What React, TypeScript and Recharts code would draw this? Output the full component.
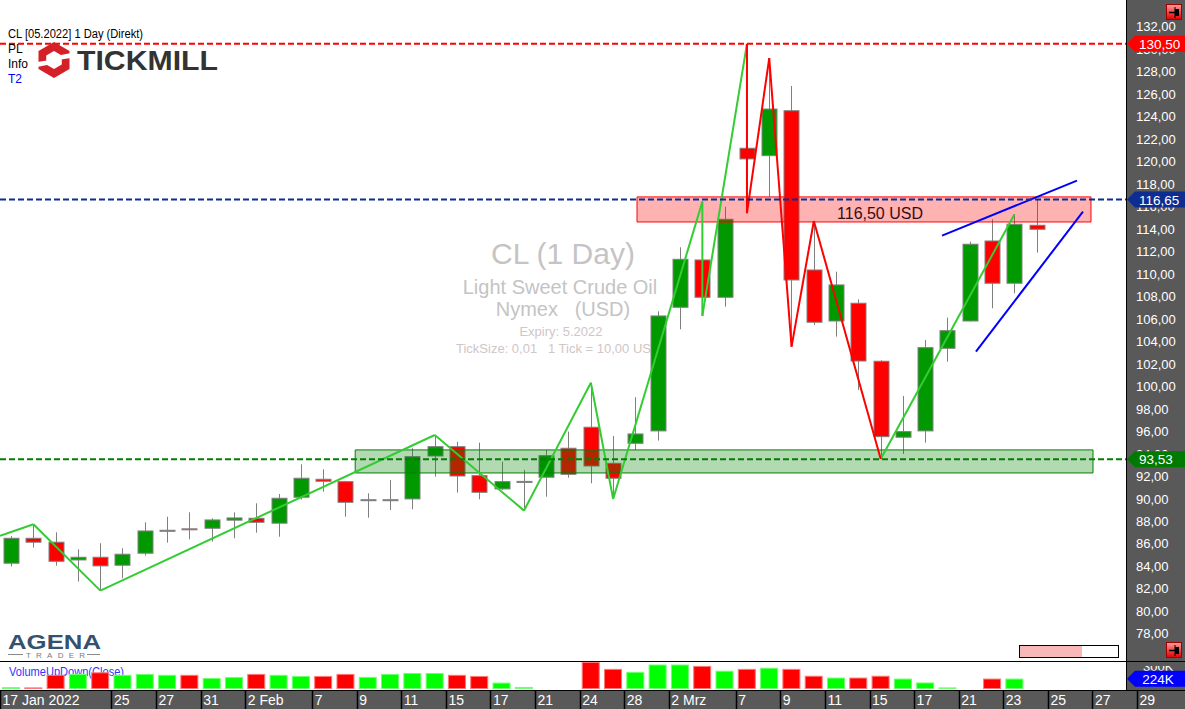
import React from 'react';
import { ComposedChart, Bar, Line, XAxis, YAxis, ReferenceLine, ReferenceArea } from 'recharts';

// ---------- DATA ----------
const open = [84.29, 86.51, 86.16, 84.58, 84.82, 84.11, 85.18, 87.15, 87.35, 87.40, 88.12, 88.29, 87.85, 90.16, 91.76, 91.55, 89.90, 89.90, 90.01, 93.83, 94.66, 92.08, 90.90, 91.53, 91.94, 94.52, 96.39, 93.18, 94.96, 96.06, 107.06, 111.27, 107.95, 121.21, 120.55, 124.55, 110.38, 105.84, 107.42, 102.26, 95.50, 96.06, 103.41, 105.84, 112.96, 109.20, 114.36];
const high = [86.70, 87.76, 87.04, 85.53, 86.07, 85.62, 87.93, 88.43, 88.82, 88.29, 88.82, 89.62, 90.45, 93.09, 92.65, 91.62, 90.51, 91.70, 94.52, 95.70, 95.10, 95.02, 93.33, 92.59, 94.37, 96.00, 100.35, 95.61, 99.06, 106.70, 112.40, 116.46, 116.01, 130.50, 129.22, 126.75, 114.74, 110.23, 107.77, 102.35, 99.17, 104.15, 106.14, 112.90, 114.89, 115.34, 116.67];
const low = [84.00, 85.68, 84.07, 82.65, 81.85, 82.95, 84.96, 86.12, 86.42, 86.21, 86.51, 87.01, 86.65, 89.95, 90.66, 88.43, 88.34, 89.03, 89.09, 91.99, 90.57, 89.98, 90.80, 88.97, 90.21, 91.90, 91.40, 90.00, 94.37, 95.20, 105.10, 106.29, 107.12, 115.43, 116.90, 103.56, 105.49, 104.45, 99.70, 93.57, 94.01, 95.02, 102.22, 105.80, 106.97, 108.31, 111.92];
const close = [86.51, 86.16, 84.46, 84.82, 84.05, 85.09, 87.16, 87.22, 87.31, 88.14, 88.32, 87.93, 90.07, 91.85, 91.58, 89.71, 89.94, 89.94, 93.77, 94.66, 92.05, 90.60, 91.55, 91.57, 93.86, 92.20, 92.94, 91.85, 95.79, 106.29, 111.33, 107.95, 114.89, 120.26, 124.70, 109.49, 105.73, 109.05, 102.28, 95.55, 96.00, 103.47, 104.98, 112.67, 109.20, 114.45, 114.00];
// volume in thousands
const volume = [40, 35, 310, 330, 365, 310, 330, 310, 310, 240, 260, 330, 310, 285, 285, 330, 265, 330, 350, 350, 310, 285, 140, 45, 0, 0, 590, 440, 375, 535, 535, 505, 400, 440, 465, 440, 290, 250, 250, 290, 228, 143, 35, 0, 228, 228, 0];
const volumeUp = [1, 0, 0, 1, 0, 1, 1, 1, 0, 1, 1, 0, 1, 1, 0, 0, 1, 1, 1, 1, 0, 0, 1, 1, 1, 1, 0, 0, 1, 1, 1, 0, 1, 0, 1, 0, 0, 1, 0, 0, 1, 1, 1, 1, 0, 1, 0];

const dateTickBars = [0, 5, 7, 9, 11, 14, 16, 18, 20, 22, 24, 26, 28, 30, 33, 35, 37, 39, 41, 43, 45, 47, 49, 51];
const dateTickLabels = ['17 Jan 2022', '25', '27', '31', '2 Feb', '7', '9', '11', '15', '17', '21', '24', '28', '2 Mrz', '7', '9', '11', '15', '17', '21', '23', '25', '27', '29'];
const priceTicks = [78, 80, 82, 84, 86, 88, 90, 92, 94, 96, 98, 100, 102, 104, 106, 108, 110, 112, 114, 116, 118, 120, 122, 124, 126, 128, 130, 132];

const greenZigA = [
  { i: -0.5, p: 86.72 }, { i: 1, p: 87.76 }, { i: 4, p: 81.85 }, { i: 19, p: 95.70 }, { i: 23, p: 88.97 },
  { i: 26, p: 100.35 }, { i: 27, p: 90.0 }, { i: 31, p: 116.46 }, { i: 31, p: 106.29 }, { i: 33, p: 130.5 },
];
const redZig = [
  { i: 33, p: 130.5 }, { i: 33, p: 115.43 }, { i: 34, p: 129.22 }, { i: 35, p: 103.56 }, { i: 36, p: 114.74 }, { i: 39, p: 93.57 },
];
const greenZigB = [{ i: 39, p: 93.57 }, { i: 45, p: 115.34 }];
const channelUpper = [{ i: 41.75, p: 113.43 }, { i: 47.8, p: 118.33 }];
const channelLower = [{ i: 43.27, p: 103.11 }, { i: 48.07, p: 115.57 }];

const levelValues = [130.5, 116.65, 93.53];
const levelLabels = ['130,50', '116,65', '93,53'];
const redZone = [28.07, 48.43, 114.65, 116.88];
const greenZone = [15.43, 48.52, 92.32, 94.37];
const lastVolume = 224;

// ---------- LAYOUT ----------
const FONT = '"Liberation Sans", Arial, Helvetica, sans-serif';
const W = 1185;
const PRICE_H = 661;
const AXIS_W = 59;
const X_DOMAIN: [number, number] = [-0.5, 50];
const X_DOMAIN_FULL: [number, number] = [-0.5, 52.65];
const Y_DOMAIN: [number, number] = [75.59, 134.4];
const V_DOMAIN: [number, number] = [0, 590];
const levelColors = ['#ff0000', '#0d2d91', '#008000'];
const markerColors = ['#ff0000', '#0d2d91', '#007a00'];

const candles = open.map((o, i) => ({ i, o, h: high[i], l: low[i], c: close[i], v: volume[i], up: volumeUp[i] === 1 }));
const dateTickValues = dateTickBars.map((b) => b - 0.5);

const CandleShape = (props: any) => {
  const { x, y, width, height, payload } = props;
  if (!payload) return null;
  const top = Math.min(y, y + height);
  const bot = Math.max(y, y + height);
  const span = payload.h - payload.l;
  const py = (p: number) => (span <= 0 ? top : top + ((payload.h - p) / span) * (bot - top));
  const cx = Math.round(x + width / 2) + 0.5;
  const yo = py(payload.o);
  const yc = py(payload.c);
  const bt = Math.min(yo, yc);
  const bb = Math.max(yo, yc);
  const up = payload.c >= payload.o;
  return (
    <g>
      <line x1={cx} x2={cx} y1={top} y2={bot} stroke="#808080" strokeWidth={1} />
      <rect x={cx - 7.5} y={bt} width={15} height={Math.max(bb - bt, 1)} fill={up ? '#009900' : '#ff0000'} stroke="#808080" strokeWidth={1} />
    </g>
  );
};

const VolShape = (props: any) => {
  const { x, y, width, height, payload } = props;
  if (!payload || !height || height <= 0) return null;
  const up = payload.up;
  return (
    <rect x={x + 0.5} y={y + 0.5} width={width - 1} height={Math.max(height - 1, 1)}
      fill={up ? '#00ff00' : '#ff0000'} stroke={up ? '#70ff70' : '#ff7878'} strokeWidth={1} />
  );
};

const PriceTick = (props: any) => {
  const { x, y, payload } = props;
  return (
    <text x={x} y={y} dy={4.5} fill="#ffffff" fontSize={13} fontFamily={FONT} textAnchor="start">
      {Number(payload.value).toFixed(2).replace('.', ',')}
    </text>
  );
};

const DateTick = (props: any) => {
  const { x, y, payload } = props;
  let idx = 0;
  dateTickValues.forEach((v, k) => { if (Math.abs(v - payload.value) < 1e-6) idx = k; });
  const lx = Math.round(x) + 0.5;
  return (
    <g>
      <line x1={lx} x2={lx} y1={y} y2={y + 19} stroke="#000" strokeWidth={1.5} />
      <text x={x + 2.5} y={y + 15} fill="#ffffff" fontSize={14} fontFamily={FONT}>{dateTickLabels[idx]}</text>
    </g>
  );
};

const Marker = (props: any) => {
  const { viewBox, text, color, center } = props;
  if (!viewBox) return null;
  const x0 = viewBox.x + viewBox.width;
  const y = viewBox.y;
  const pts = `${x0 + 1},${y} ${x0 + 9},${y - 8} ${x0 + 59},${y - 8} ${x0 + 59},${y + 8} ${x0 + 9},${y + 8}`;
  return (
    <g>
      <polygon points={pts} fill={color} />
      <text x={center ? x0 + 32 : x0 + 13} y={y + 5} fill="#ffffff" fontSize={13.5} fontFamily={FONT} textAnchor={center ? 'middle' : 'start'}>{text}</text>
    </g>
  );
};

const ZoneLabel = (props: any) => {
  const { viewBox } = props;
  if (!viewBox) return null;
  return (
    <text x={viewBox.x + 200} y={viewBox.y + 22} fill="#3a0c0c" fontSize={16} fontFamily={FONT}>116,50 USD</text>
  );
};

const seg = (a: { i: number; p: number }, b: { i: number; p: number }) => [{ x: a.i, y: a.p }, { x: b.i, y: b.p }];

const zigSegments = (pts: { i: number; p: number }[], color: string, keyBase: string) =>
  pts.slice(1).map((b, k) => (
    <ReferenceLine key={keyBase + k} segment={seg(pts[k], b) as any} stroke={color} strokeWidth={2} ifOverflow="visible" />
  ));

const PinButton = ({ left, top }: { left: number; top: number }) => (
  <svg style={{ position: 'absolute', left, top }} width={16} height={16}>
    <defs>
      <linearGradient id={`pg${top}`} x1="0" y1="0" x2="0" y2="1">
        <stop offset="0" stopColor="#ff9a9a" />
        <stop offset="1" stopColor="#e00000" />
      </linearGradient>
    </defs>
    <rect x={0.5} y={0.5} width={15} height={15} fill={`url(#pg${top})`} stroke="#a00000" />
    <line x1={3} x2={9} y1={8.5} y2={8.5} stroke="#000" strokeWidth={1.5} />
    <rect x={9} y={5} width={4} height={7} fill="#000" />
    <line x1={9} x2={9} y1={3} y2={14} stroke="#000" strokeWidth={1} />
  </svg>
);

export default function App() {
  return (
    <div style={{ position: 'absolute', left: 0, top: 0, width: W, height: 709, background: '#ffffff', overflow: 'hidden', fontFamily: FONT }}>
      {/* right price axis background */}
      <div style={{ position: 'absolute', left: 1126, top: 0, width: AXIS_W, height: 691, background: '#595959', borderLeft: '1px solid #000', boxSizing: 'border-box' }} />

      {/* watermark */}
      <svg style={{ position: 'absolute', left: 0, top: 0 }} width={1126} height={PRICE_H}>
        <text x={563} y={264} textAnchor="middle" fontSize={30} fill="#c4c4c4" fontFamily={FONT}>CL (1 Day)</text>
        <text x={560} y={294} textAnchor="middle" fontSize={20} fill="#c4c4c4" fontFamily={FONT}>Light Sweet Crude Oil</text>
        <text x={563} y={316} textAnchor="middle" fontSize={20} fill="#c4c4c4" fontFamily={FONT} style={{ whiteSpace: 'pre' }}>Nymex   (USD)</text>
        <text x={561} y={336} textAnchor="middle" fontSize={13} fill="#d0c6c6" fontFamily={FONT}>Expiry: 5.2022</text>
        <text x={456} y={353} textAnchor="start" fontSize={13} fill="#d0c6c6" fontFamily={FONT} style={{ whiteSpace: 'pre' }}>TickSize: 0,01   1 Tick = 10,00 USD</text>
      </svg>

      {/* price chart: candles + axis */}
      <div style={{ position: 'absolute', left: 0, top: 0 }}>
        <ComposedChart width={W} height={PRICE_H} data={candles} margin={{ top: 0, right: 0, bottom: 0, left: 0 }}>
          <XAxis type="number" dataKey="i" domain={X_DOMAIN} hide allowDataOverflow />
          <YAxis orientation="right" width={AXIS_W} domain={Y_DOMAIN} ticks={priceTicks} interval={0} allowDataOverflow
            axisLine={false} tickLine={false} tickSize={0} tickMargin={10} tick={<PriceTick />} />
          <Bar dataKey={(d: any) => [d.l, d.h]} barSize={16} shape={<CandleShape />} isAnimationActive={false} />
        </ComposedChart>
      </div>

      {/* overlay: zones, zigzags, channel, levels */}
      <div style={{ position: 'absolute', left: 0, top: 0 }}>
        <ComposedChart width={W} height={PRICE_H} data={candles} margin={{ top: 0, right: AXIS_W, bottom: 0, left: 0 }}>
          <XAxis type="number" dataKey="i" domain={X_DOMAIN} hide allowDataOverflow />
          <YAxis domain={Y_DOMAIN} hide allowDataOverflow />
          <Line dataKey="c" stroke="none" dot={false} activeDot={false} isAnimationActive={false} />
          <ReferenceArea x1={greenZone[0]} x2={greenZone[1]} y1={greenZone[2]} y2={greenZone[3]} fill="#008000" fillOpacity={0.3} stroke="#008000" strokeOpacity={1} ifOverflow="visible" />
          <ReferenceArea x1={redZone[0]} x2={redZone[1]} y1={redZone[2]} y2={redZone[3]} fill="#ff0000" fillOpacity={0.3} stroke="#ff0000" strokeOpacity={1} ifOverflow="visible" label={<ZoneLabel />} />
          {zigSegments(greenZigA, '#33cc33', 'ga')}
          {zigSegments(greenZigB, '#33cc33', 'gb')}
          {zigSegments(redZig, '#ff0000', 'r')}
          {zigSegments(channelUpper, '#0000ff', 'cu')}
          {zigSegments(channelLower, '#0000ff', 'cl')}
          {levelValues.map((v, k) => (
            <ReferenceLine key={'lv' + k} y={v} stroke={levelColors[k]} strokeWidth={2} strokeDasharray="6 3"
              label={<Marker text={levelLabels[k]} color={markerColors[k]} />} />
          ))}
        </ComposedChart>
      </div>

      {/* top-left info + logo */}
      <svg style={{ position: 'absolute', left: 0, top: 0 }} width={240} height={90}>
        <text x={8} y={38} fontSize={12} fill="#000" fontFamily={FONT} textLength={135} lengthAdjust="spacingAndGlyphs">CL [05.2022] 1 Day (Direkt)</text>
        <text x={8} y={53} fontSize={12} fill="#000" fontFamily={FONT}>PL</text>
        <text x={8} y={68} fontSize={12} fill="#000" fontFamily={FONT}>Info</text>
        <text x={8} y={83} fontSize={12} fill="#0000ff" fontFamily={FONT}>T2</text>
        <polygon points="54,42 69.5,51 69.5,69 54,78 38.5,69 38.5,51" fill="#d42027" />
        <polygon points="54,51 61.8,55.5 61.8,64.5 54,69 46.2,64.5 46.2,55.5" fill="#ffffff" />
        <polygon points="61,55 71,53 71,58 61,59.5" fill="#ffffff" />
        <polygon points="37,62 47,60.5 47,65 37,67" fill="#ffffff" />
        <text x={77} y={70} fontSize={28} fontWeight={700} fill="#333333" fontFamily={FONT} textLength={141} lengthAdjust="spacingAndGlyphs">TICKMILL</text>
      </svg>

      {/* AGENA logo */}
      <svg style={{ position: 'absolute', left: 0, top: 628 }} width={110} height={32}>
        <text x={8} y={21} fontSize={21} fontWeight={700} fill="#34526e" fontFamily={FONT} textLength={93} lengthAdjust="spacingAndGlyphs">AGENA</text>
        <line x1={8} x2={23} y1={26.5} y2={26.5} stroke="#8a8a8a" strokeWidth={1} />
        <line x1={87} x2={100} y1={26.5} y2={26.5} stroke="#8a8a8a" strokeWidth={1} />
        <text x={26} y={29.5} fontSize={8} fill="#7a7a7a" fontFamily={FONT} textLength={59} lengthAdjust="spacing">TRADER</text>
      </svg>

      {/* small progress box */}
      <div style={{ position: 'absolute', left: 1019, top: 645, width: 100, height: 13, border: '1px solid #000', boxSizing: 'border-box', background: '#fff' }}>
        <div style={{ width: 62, height: 11, background: '#f8b8b8' }} />
      </div>

      <PinButton left={1166} top={4} />
      <PinButton left={1166} top={642} />

      {/* volume panel */}
      <div style={{ position: 'absolute', left: 0, top: 661, width: W, height: 1, background: '#000' }} />
      <div style={{ position: 'absolute', left: 1127, top: 662, width: 58, height: 10, overflow: 'hidden' }}>
        <svg width={58} height={10}>
          <text x={16} y={4.5} fontSize={13} fill="#ffffff" fontFamily={FONT}>300K</text>
        </svg>
      </div>
      <svg style={{ position: 'absolute', left: 0, top: 662 }} width={200} height={20}>
        <text x={9} y={14} fontSize={12} fill="#3333ff" fontFamily={FONT} textLength={115} lengthAdjust="spacingAndGlyphs">VolumeUpDown(Close)</text>
      </svg>
      <div style={{ position: 'absolute', left: 0, top: 661 }}>
        <ComposedChart width={W} height={29} data={candles} margin={{ top: 1, right: AXIS_W, bottom: 1, left: 0 }}>
          <XAxis type="number" dataKey="i" domain={X_DOMAIN} hide allowDataOverflow />
          <YAxis domain={V_DOMAIN} hide allowDataOverflow />
          <Bar dataKey="v" barSize={18} shape={<VolShape />} isAnimationActive={false} />
          <ReferenceLine y={lastVolume} stroke="none" label={<Marker text="224K" color="#0000ff" center />} />
        </ComposedChart>
      </div>

      {/* date axis */}
      <div style={{ position: 'absolute', left: 0, top: 690, width: W, height: 19, background: '#595959', borderTop: '1.5px solid #000', boxSizing: 'border-box' }} />
      <div style={{ position: 'absolute', left: 0, top: 671 }}>
        <ComposedChart width={W} height={38} data={candles} margin={{ top: 0, right: 0, bottom: 0, left: 0 }}>
          <XAxis type="number" dataKey="i" domain={X_DOMAIN_FULL} ticks={dateTickValues} interval={0} height={19}
            axisLine={false} tickLine={false} tickSize={0} tickMargin={0} tick={<DateTick />} allowDataOverflow />
          <YAxis domain={Y_DOMAIN} hide allowDataOverflow />
          <Line dataKey="c" stroke="none" dot={false} activeDot={false} isAnimationActive={false} />
        </ComposedChart>
      </div>
    </div>
  );
}
